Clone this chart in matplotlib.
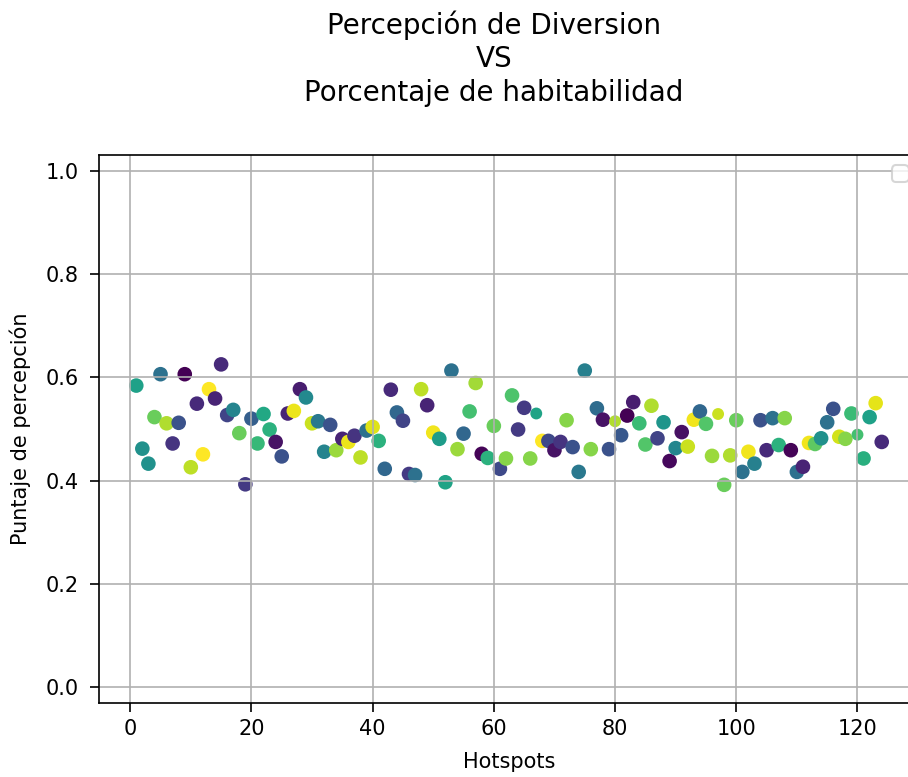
import numpy as np
import matplotlib
matplotlib.use("Agg")
import matplotlib.pyplot as plt

# hotspot ids
hotspots = list(range(1, 125))

# perception score per hotspot
puntaje = [
    0.584, 0.462, 0.433, 0.523, 0.606, 0.511, 0.472, 0.512, 0.606, 0.426,
    0.549, 0.451, 0.577, 0.559, 0.625, 0.527, 0.537, 0.492, 0.393, 0.520,
    0.472, 0.529, 0.499, 0.475, 0.447, 0.530, 0.535, 0.577, 0.561, 0.511,
    0.515, 0.456, 0.508, 0.459, 0.481, 0.475, 0.487, 0.445, 0.497, 0.504,
    0.477, 0.423, 0.576, 0.532, 0.516, 0.413, 0.411, 0.577, 0.546, 0.493,
    0.481, 0.397, 0.613, 0.461, 0.491, 0.534, 0.589, 0.452, 0.444, 0.506,
    0.423, 0.443, 0.565, 0.499, 0.541, 0.443, 0.530, 0.477, 0.477, 0.459,
    0.475, 0.517, 0.465, 0.417, 0.613, 0.461, 0.540, 0.518, 0.461, 0.515,
    0.488, 0.526, 0.552, 0.511, 0.470, 0.545, 0.482, 0.513, 0.438, 0.463,
    0.494, 0.466, 0.518, 0.534, 0.510, 0.448, 0.529, 0.392, 0.449, 0.517,
    0.417, 0.456, 0.433, 0.517, 0.459, 0.521, 0.469, 0.521, 0.459, 0.417,
    0.427, 0.473, 0.471, 0.482, 0.513, 0.539, 0.485, 0.481, 0.530, 0.489,
    0.443, 0.523, 0.550, 0.475,
]

# habitability percentage (colour value, 0-1)
habitabilidad = [
    0.57, 0.50, 0.50, 0.77, 0.37, 0.88, 0.15, 0.25, 0.00, 0.90,
    0.12, 1.00, 1.00, 0.10, 0.12, 0.20, 0.45, 0.77, 0.17, 0.30,
    0.67, 0.60, 0.64, 0.05, 0.25, 0.10, 0.97, 0.08, 0.47, 0.92,
    0.40, 0.45, 0.25, 0.85, 0.10, 0.97, 0.15, 0.90, 0.37, 0.95,
    0.64, 0.33, 0.12, 0.33, 0.20, 0.17, 0.37, 0.90, 0.10, 0.98,
    0.55, 0.58, 0.37, 0.85, 0.33, 0.70, 0.86, 0.01, 0.64, 0.77,
    0.22, 0.82, 0.72, 0.17, 0.17, 0.82, 0.58, 1.00, 0.22, 0.05,
    0.15, 0.82, 0.25, 0.40, 0.43, 0.82, 0.35, 0.05, 0.25, 0.88,
    0.27, 0.00, 0.08, 0.68, 0.73, 0.88, 0.20, 0.52, 0.02, 0.46,
    0.04, 0.92, 0.98, 0.33, 0.73, 0.85, 0.92, 0.77, 0.88, 0.77,
    0.37, 0.98, 0.43, 0.25, 0.12, 0.37, 0.64, 0.82, 0.01, 0.37,
    0.10, 0.98, 0.75, 0.50, 0.37, 0.25, 0.93, 0.82, 0.68, 0.70,
    0.63, 0.57, 0.96, 0.12,
]

# hotspots drawn with a smaller marker
small = [67, 80, 97, 120]

sizes = [22 if h in small else 36 for h in hotspots]

fig = plt.figure(figsize=(909 / 150, 777 / 150), dpi=150)
ax = fig.add_axes([99 / 909, 1 - 703 / 777, 820 / 909, 548 / 777])

ax.scatter(hotspots, puntaje, c=habitabilidad, cmap="viridis", s=sizes,
           vmin=0, vmax=1)
ax.set_ylim(-0.03, 1.03)
ax.grid(True)
ax.tick_params(axis="y", pad=5.5, length=4.2)
ax.tick_params(axis="x", length=4.2)
ax.set_xlabel("Hotspots", labelpad=6)
ax.set_ylabel("Puntaje de percepción", labelpad=7)
ax.legend(loc="upper right")

fig.text(494 / 909, 1 - 10 / 777,
         "Percepción de Diversion\nVS\nPorcentaje de habitabilidad",
         ha="center", va="top", fontsize=13.3, linespacing=1.26)

fig.savefig("out.png", dpi=150)
